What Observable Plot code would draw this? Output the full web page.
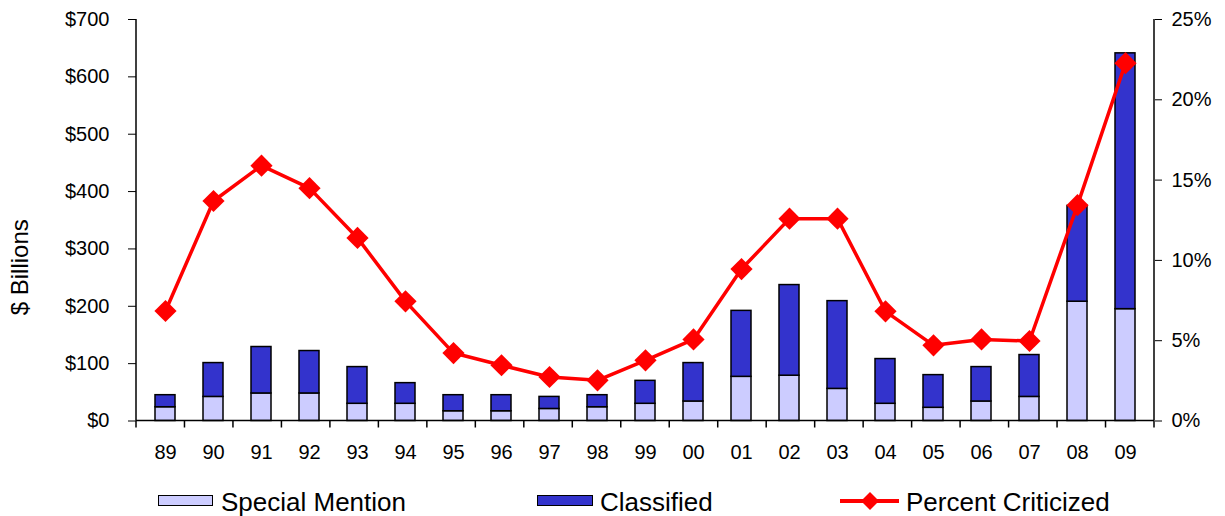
<!DOCTYPE html>
<html><head><meta charset="utf-8">
<script src="https://cdn.jsdelivr.net/npm/d3@7"></script>
<script src="https://cdn.jsdelivr.net/npm/@observablehq/plot@0.6"></script>
<style>
body{margin:0;background:#fff;font-family:"Liberation Sans",Arial,sans-serif;}
#wrap{position:relative;width:1225px;}
#legend{position:relative;height:46px;width:1225px;font-size:26px;color:#000;font-family:"Liberation Sans",Arial,sans-serif;}
#legend .txt{position:absolute;top:19px;line-height:26px;white-space:nowrap;}
#legend .sw{position:absolute;top:25px;height:11px;box-sizing:border-box;border:1.5px solid #000;}
#legend svg{position:absolute;}
</style></head><body>
<div id="wrap"><div id="chart"></div><div id="legend"></div></div>
<script>
const years = ["89","90","91","92","93","94","95","96","97","98","99","00","01","02","03","04","05","06","07","08","09"];
const specialMention = [24,42,48,48,30,30,17,17,21,24,30,34,77,79,56,30,23,34,42,208,195];
const classified = [21,59,81,74,64,36,28,28,21,21,40,67,115,158,153,78,57,60,73,167,446];
const percentCriticized = [6.85,13.7,15.9,14.5,11.4,7.45,4.23,3.47,2.74,2.53,3.78,5.08,9.46,12.6,12.6,6.83,4.71,5.08,4.98,13.44,22.28];
const dollarTicks = [0,100,200,300,400,500,600,700];
const percentTicks = [0,5,10,15,20,25];
const seriesNames = ["Special Mention","Classified","Percent Criticized"];
const colors = {"Special Mention":"#CCCCFF","Classified":"#3333CC","Percent Criticized":"#FF0000"};

const k = 700/25; // percent -> dollar axis units

const barRows = [];
years.forEach((y,i)=>{
  barRows.push({year:y, series:seriesNames[0], value:specialMention[i]});
  barRows.push({year:y, series:seriesNames[1], value:classified[i]});
});
const lineRows = years.map((y,i)=>({year:y, v:percentCriticized[i]*k}));

function frameMark(index, scales, values, dimensions){
  const {width,height,marginLeft,marginRight,marginTop,marginBottom} = dimensions;
  const x0 = marginLeft, x1 = width - marginRight, yb = height - marginBottom, yt = marginTop;
  const g = d3.create("svg:g").attr("stroke","#000").attr("stroke-width",1.5).attr("fill","none");
  g.append("line").attr("x1",x0).attr("x2",x0).attr("y1",yt).attr("y2",yb);
  g.append("line").attr("x1",x1).attr("x2",x1).attr("y1",yt).attr("y2",yb);
  g.append("line").attr("x1",x0).attr("x2",x1).attr("y1",yb).attr("y2",yb);
  const step = (x1-x0)/years.length;
  for(let i=0;i<=years.length;i++){
    const x = x0 + i*step;
    g.append("line").attr("x1",x).attr("x2",x).attr("y1",yb).attr("y2",yb+7);
  }
  return g.node();
}

const chart = Plot.plot({
  width:1225, height:470,
  marginLeft:136, marginRight:71, marginTop:19, marginBottom:49.5,
  style:{fontFamily:"'Liberation Sans', Arial, sans-serif", color:"#000", background:"#fff"},
  x:{domain:years, paddingInner:0.58, paddingOuter:0.29, label:null},
  y:{domain:[0,700], label:null},
  color:{domain:seriesNames.slice(0,2), range:[colors["Special Mention"],colors["Classified"]]},
  marks:[
    Plot.barY(barRows,{x:"year", y:"value", fill:"series", stroke:"#000", strokeWidth:1.5}),
    Plot.line(lineRows,{x:"year", y:"v", stroke:colors["Percent Criticized"], strokeWidth:3.5}),
    Plot.dot(lineRows,{x:"year", y:"v", symbol:"diamond2", r:10, fill:colors["Percent Criticized"], stroke:"none"}),
    frameMark,
    Plot.axisY({ticks:dollarTicks, tickFormat:d=>"$"+d, tickSize:8, tickPadding:19, fontSize:20, label:null}),
    Plot.axisY({anchor:"right", ticks:percentTicks.map(p=>p*k), tickFormat:v=>Math.round(v/k)+"%", tickSize:7, tickPadding:10, fontSize:20, label:null}),
    Plot.axisX({tickSize:0, tickPadding:24, fontSize:20, label:null}),
    Plot.text(["$ Billions"],{frameAnchor:"left", textAnchor:"middle", rotate:-90, dx:-116, dy:47, fontSize:24, fill:"#000"})
  ]
});
document.getElementById("chart").appendChild(chart);

const legend = document.getElementById("legend");
function addSwatch(left, w, color){
  const d = document.createElement("div"); d.className="sw";
  d.style.left=left+"px"; d.style.width=w+"px"; d.style.background=color; legend.appendChild(d);
}
function addText(left, t){
  const s = document.createElement("span"); s.className="txt"; s.style.left=left+"px"; s.textContent=t; legend.appendChild(s);
}
addSwatch(158,55,colors["Special Mention"]); addText(221,seriesNames[0]);
addSwatch(537,56,colors["Classified"]); addText(600,seriesNames[1]);
const ls = d3.create("svg").attr("width",60).attr("height",24).style("left","840px").style("top","19px");
ls.append("line").attr("x1",0).attr("x2",59).attr("y1",12).attr("y2",12).attr("stroke",colors["Percent Criticized"]).attr("stroke-width",4);
ls.append("path").attr("d","M30,3L39,12L30,21L21,12Z").attr("fill",colors["Percent Criticized"]);
legend.appendChild(ls.node());
addText(906,seriesNames[2]);
</script>
</body></html>
